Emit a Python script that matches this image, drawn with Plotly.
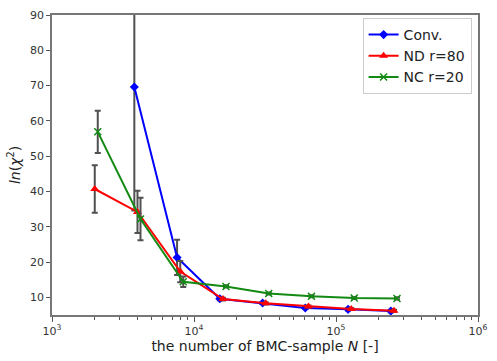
import plotly.graph_objects as go

conv_n = [3800, 7600, 15200, 30400, 60800, 121600, 243200]
conv_v = [69.6, 21.3, 9.6, 8.4, 7.0, 6.6, 6.1]
conv_e = [35.0, 5.0, 0.4, 0.3, 0.3, 0.3, 0.3]

nd_n = [2000, 4000, 8000, 16000, 32000, 64000, 128000, 256000]
nd_v = [40.7, 34.2, 17.3, 9.5, 8.3, 7.4, 6.7, 6.2]
nd_e = [6.7, 6.0, 3.0, 0.4, 0.3, 0.3, 0.3, 0.3]

nc_n = [2100, 4200, 8400, 16800, 33600, 67200, 134400, 268800]
nc_v = [56.9, 32.2, 14.4, 13.1, 11.1, 10.3, 9.8, 9.7]
nc_e = [6.0, 6.0, 1.5, 0.3, 0.3, 0.3, 0.3, 0.3]

x_tickvals = [1e3, 1e4, 1e5, 1e6]
x_ticktext = ["10<sup>3</sup>", "10<sup>4</sup>", "10<sup>5</sup>", "10<sup>6</sup>"]
y_tickvals = [10, 20, 30, 40, 50, 60, 70, 80, 90]

minor_vals = [m * 10 ** d for d in range(3, 6) for m in range(2, 10)]

err_style = dict(type="data", visible=True, color="#505050", thickness=2, width=3)

fig = go.Figure()
fig.add_trace(go.Scatter(
    x=conv_n, y=conv_v, name="Conv.", mode="lines+markers",
    line=dict(color="#0000ff", width=2),
    marker=dict(symbol="diamond", size=7, color="#0000ff"),
    error_y=dict(array=conv_e, **err_style),
))
fig.add_trace(go.Scatter(
    x=nd_n, y=nd_v, name="ND r=80", mode="lines+markers",
    line=dict(color="#ff0000", width=2),
    marker=dict(symbol="triangle-up", size=8, color="#ff0000"),
    error_y=dict(array=nd_e, **err_style),
))
fig.add_trace(go.Scatter(
    x=nc_n, y=nc_v, name="NC r=20", mode="lines+markers",
    line=dict(color="#138a13", width=2),
    marker=dict(symbol="x-thin", size=7, color="#138a13", line=dict(color="#138a13", width=1.5)),
    error_y=dict(array=nc_e, **err_style),
))

fig.update_layout(
    width=497, height=361,
    margin=dict(l=52, r=10, t=9, b=35),
    paper_bgcolor="white", plot_bgcolor="white",
    font=dict(family="DejaVu Sans", color="#333333", size=11),
    showlegend=True,
    legend=dict(
        x=0.985, y=0.99, xanchor="right", yanchor="top",
        bgcolor="white", bordercolor="#cccccc", borderwidth=1,
        font=dict(size=14, color="#222222"),
        itemwidth=30, tracegroupgap=0,
    ),
)
fig.update_xaxes(
    type="log", range=[3, 6],
    tickvals=x_tickvals, ticktext=x_ticktext,
    ticks="outside", ticklen=5, tickcolor="#555555",
    showline=True, linecolor="#777777", linewidth=1.5, mirror=True,
    showgrid=False, zeroline=False,
    minor=dict(tickvals=minor_vals, ticks="outside", ticklen=3, tickcolor="#555555"),
    title=dict(text="the number of BMC-sample <i>N</i> [-]", font=dict(size=14, color="#222222"), standoff=4),
)
fig.update_yaxes(
    range=[5, 90],
    tickvals=y_tickvals,
    ticks="outside", ticklen=4, tickcolor="#555555",
    showline=True, linecolor="#777777", linewidth=1.5, mirror=True,
    showgrid=False, zeroline=False,
    title=dict(text="<i>ln</i>(<i>χ</i><sup>2</sup>)", font=dict(size=14, color="#222222"), standoff=6),
)

fig.write_html("out.html")
